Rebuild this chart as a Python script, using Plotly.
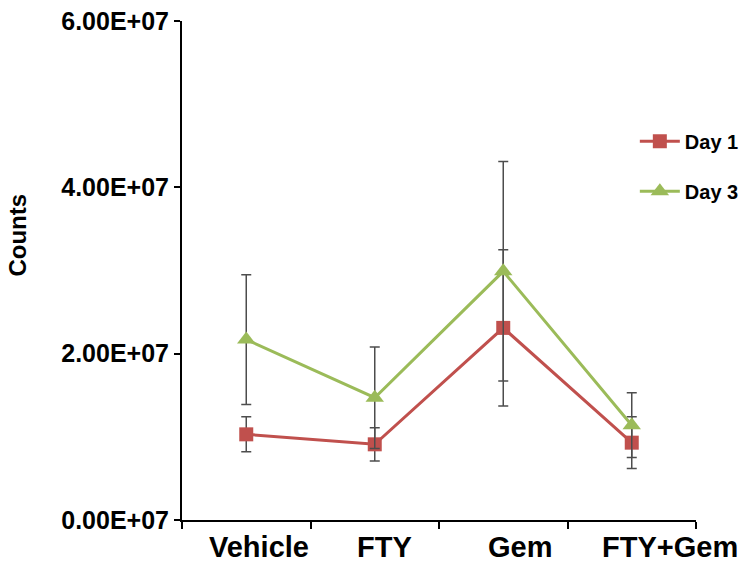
import plotly.graph_objects as go

categories = ["Vehicle", "FTY", "Gem", "FTY+Gem"]
day1_values = [1.03e7, 0.91e7, 2.31e7, 0.93e7]
day1_errors = [0.21e7, 0.20e7, 0.94e7, 0.31e7]
day3_values = [2.17e7, 1.47e7, 2.99e7, 1.14e7]
day3_errors = [0.78e7, 0.61e7, 1.32e7, 0.39e7]
ytick_values = [0, 2e7, 4e7, 6e7]
ytick_labels = ["0.00E+07", "2.00E+07", "4.00E+07", "6.00E+07"]
label_shifts = [13, 10, 17, 38]

FONT = "Liberation Sans"
RED = "#C0504D"
GREEN = "#9BBB59"
ERR = "#4d4d4d"

fig = go.Figure()
fig.add_trace(go.Scatter(
    x=categories, y=day1_values, name="Day 1", mode="lines+markers",
    legendgroup="d1",
    line=dict(color=RED, width=3),
    marker=dict(symbol="square", size=14, color=RED),
    error_y=dict(type="data", array=day1_errors, visible=True,
                 color=ERR, thickness=1.5, width=5),
))
fig.add_trace(go.Scatter(
    x=categories, y=day3_values, name="Day 3", mode="lines+markers",
    legendgroup="d3",
    line=dict(color=GREEN, width=3),
    marker=dict(symbol="triangle-up", size=16, color=GREEN),
    error_y=dict(type="data", array=day3_errors, visible=True,
                 color=ERR, thickness=1.5, width=5),
))

annotations = []
for cat, sh in zip(categories, label_shifts):
    annotations.append(dict(
        x=cat, xref="x", y=0, yref="paper", yshift=-9, xshift=sh,
        text=cat, showarrow=False, xanchor="center", yanchor="top",
        font=dict(family=FONT, size=29, color="black", weight="bold"),
    ))
annotations.append(dict(
    x=0, xref="paper", xshift=-164, y=0.57, yref="paper",
    text="Counts", textangle=-90, showarrow=False,
    xanchor="center", yanchor="middle",
    font=dict(family=FONT, size=24, color="black", weight="bold"),
))

fig.update_layout(
    width=742, height=568,
    margin=dict(l=182, r=46, t=21, b=48, autoexpand=False),
    paper_bgcolor="white", plot_bgcolor="white",
    showlegend=True,
    legend=dict(
        x=0.881, y=0.798, xanchor="left", yanchor="top",
        font=dict(family=FONT, size=20, color="black", weight="bold"),
        tracegroupgap=21, itemwidth=40, bgcolor="rgba(0,0,0,0)",
    ),
    annotations=annotations,
    xaxis=dict(
        type="category", range=[-0.5, 3.5],
        showline=True, linecolor="black", linewidth=2,
        ticks="outside", ticklen=7, tickwidth=2, tickcolor="black",
        tickson="boundaries", showticklabels=False,
        showgrid=False, zeroline=False,
    ),
    yaxis=dict(
        range=[0, 6e7], tickvals=ytick_values, ticktext=ytick_labels,
        showline=True, linecolor="black", linewidth=2,
        ticks="outside", ticklen=6, tickwidth=2, tickcolor="black",
        tickfont=dict(family=FONT, size=25, color="black", weight="bold"),
        ticklabeloverflow="allow",
        showgrid=False, zeroline=False,
    ),
)

fig.write_html(
    "out.html",
    config={"displayModeBar": False},
    post_script="document.body.style.margin='0';document.body.style.overflow='hidden';",
)
